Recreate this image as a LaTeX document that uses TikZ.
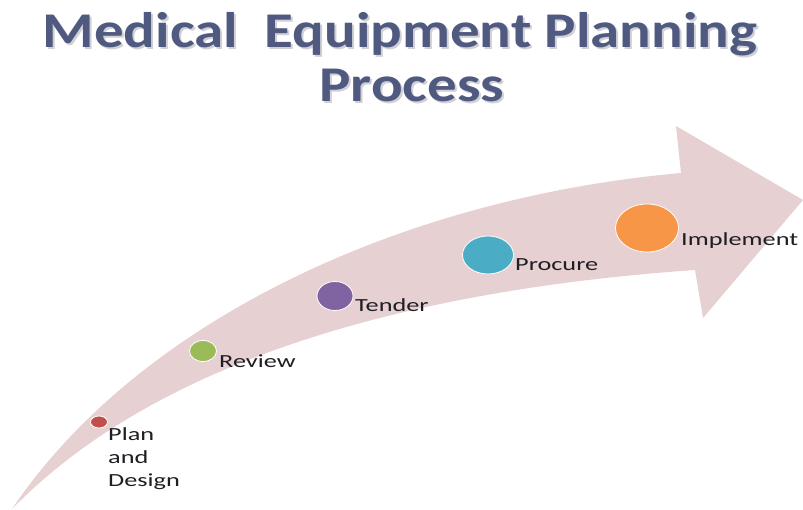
\documentclass[tikz,border=0pt]{standalone}
\usepackage{fontspec}
\usetikzlibrary{shapes.geometric}
\newfontfamily\titlefont[FakeStretch=1.18]{Carlito}
\newfontfamily\labfont[FakeStretch=1.42]{Carlito}
\definecolor{arrowpink}{RGB}{231,208,209}
\definecolor{titleblue}{RGB}{80,90,128}
\definecolor{shadowgray}{RGB}{208,208,214}
\definecolor{cred}{RGB}{192,80,77}
\definecolor{cgreen}{RGB}{155,187,89}
\definecolor{cpurple}{RGB}{128,100,162}
\definecolor{ccyan}{RGB}{75,172,198}
\definecolor{corange}{RGB}{247,150,70}
\definecolor{labtext}{RGB}{30,30,35}
\tikzset{
  dot/.style={ellipse, draw=white, line width=0.8pt, inner sep=0pt},
  lab/.style={anchor=base west, inner sep=0pt, font=\labfont\fontsize{18.5}{23}\selectfont, text=labtext, align=left},
  ttl/.style={inner sep=0pt, font=\titlefont\bfseries\fontsize{50}{55}\selectfont, anchor=base},
}
\begin{document}
\begin{tikzpicture}[x=1pt,y=-1pt]
\useasboundingbox (0,0) rectangle (803,510);
\fill[white] (0,0) rectangle (803,510);
% arrow
\coordinate (tail) at (12,509);
\coordinate (su) at (681,173);
\coordinate (ht) at (676,126);
\coordinate (tip) at (803,200);
\coordinate (hb) at (703,318);
\coordinate (sl) at (695,270);
\fill[arrowpink] (tail) .. controls (138,322) and (400,198) .. (su) -- (ht) -- (tip) -- (hb) -- (sl) .. controls (450,287) and (172,345) .. (tail) -- cycle;
% title
\node[ttl, text=shadowgray] at (402,50) {Medical\ \ Equipment Planning};
\node[ttl, text=shadowgray] at (414,104) {Process};
\node[ttl, text=titleblue] (t1) at (400,48) {Medical\ \ Equipment Planning};
\node[ttl, text=titleblue] (t2) at (412,102) {Process};
% dots
\node[dot, fill=cred, minimum width=17pt, minimum height=12pt] (d1) at (99,422) {};
\node[dot, fill=cgreen, minimum width=27pt, minimum height=21pt] (d2) at (203,351) {};
\node[dot, fill=cpurple, minimum width=36pt, minimum height=29pt] (d3) at (335,296) {};
\node[dot, fill=ccyan, minimum width=51pt, minimum height=38pt] (d4) at (488,255) {};
\node[dot, fill=corange, minimum width=63pt, minimum height=48pt] (d5) at (647,228) {};
% labels
\node[lab] (l1) at (108,486) {Plan\\and\\Design};
\node[lab] (l2) at (219,368) {Review};
\node[lab] (l3) at (355,312) {Tender};
\node[lab] (l4) at (515,271) {Procure};
\node[lab] (l5) at (681,246) {Implement};
\end{tikzpicture}
\end{document}
